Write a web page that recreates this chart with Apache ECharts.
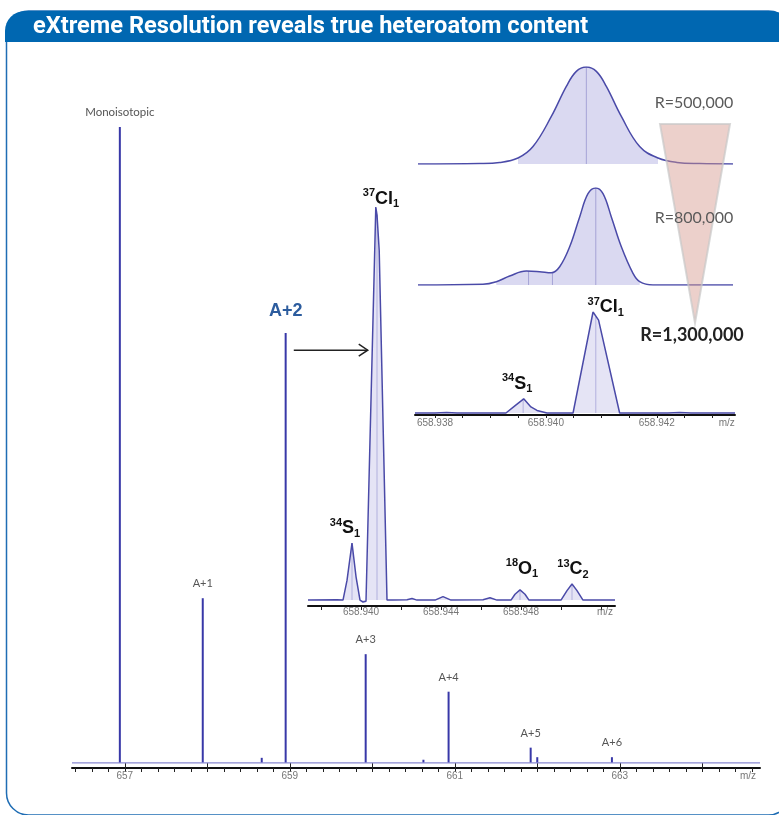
<!DOCTYPE html>
<html>
<head>
<meta charset="utf-8">
<script src="https://cdn.jsdelivr.net/npm/echarts@6/dist/echarts.min.js"></script>
<style>
  html, body { margin: 0; padding: 0; background: #fff; }
  #chart { width: 779px; height: 815px; }
</style>
</head>
<body>
<div id="chart"></div>
<script>
// ---- Full-range spectrum: centroid sticks (m/z, relative intensity) ----
const mainRange  = [656.36, 664.70];
const peakMz     = [656.94, 657.945, 658.95, 659.92, 660.925, 661.92, 662.905];
const peakInt    = [100, 25.9, 67.6, 17.1, 11.2, 2.4, 0.9];
const peakTags   = ['Monoisotopic', 'A+1', 'A+2', 'A+3', 'A+4', 'A+5', 'A+6'];
const minorMz    = [658.66, 660.62, 662.0];
const minorInt   = [0.8, 0.5, 0.9];
const mainLabels = [657, 659, 661, 663, 664.555];
const mainMajor  = [657, 658, 659, 660, 661, 662, 663, 664];

// ---- A+2 cluster zoom (profile) ----
const hrRange = [658.93735, 658.9527];
const hrMz  = [658.93735, 658.9388, 658.9391, 658.9393, 658.93955, 658.93975, 658.93995, 658.9401, 658.94025,
               658.94035, 658.94074, 658.9408, 658.94091, 658.9413, 658.9416, 658.9423, 658.94255, 658.9428,
               658.9437, 658.9441, 658.9445, 658.9461, 658.94645, 658.9468, 658.9475, 658.9477, 658.94795,
               658.9482, 658.9484, 658.9500, 658.9503, 658.95055, 658.9508, 658.9511, 658.9527];
const hrInt = [0, 0.1, 0, 5, 14.5, 6, 0, -0.5, -0.3,
               0, 100, 98, 89, 0, 0, 0.1, 0.4, 0,
               0, 0.9, 0, 0.1, 0.6, 0, 0, 1.5, 2.6,
               1.5, 0, 0, 2.4, 4.1, 2.4, 0, 0];
const hrCentMz  = [658.93955, 658.9408, 658.94795, 658.95055];
const hrCentInt = [14.5, 98, 2.6, 4.1];
const hrTags    = [['34', 'S', '1'], ['37', 'Cl', '1'], ['18', 'O', '1'], ['13', 'C', '2']];
const hrTicks   = [658.938, 658.940, 658.942, 658.944, 658.946, 658.948, 658.950, 658.952];
const hrLabels  = [658.940, 658.944, 658.948, 658.9522];

// ---- Resolution comparison panels ----
const resRange = [658.93770, 658.94337];
const r5Mz  = [658.93770, 658.93881, 658.93917, 658.93950, 658.93977, 658.94010, 658.94037, 658.94055,
               658.94073, 658.94091, 658.94109, 658.94136, 658.94169, 658.94202, 658.94236, 658.94277, 658.94337];
const r5Int = [0, 0.5, 1.6, 6.2, 18, 49, 80, 95.5, 100, 95.5, 80, 49, 18, 6.2, 1.6, 0.4, 0];
const r5Fill = [658.93950, 658.94202];
const r5CentMz  = [658.94073];
const r5CentInt = [100];

const r8Mz  = [658.93770, 658.93887, 658.93911, 658.93935, 658.93965, 658.93989, 658.94010, 658.94025,
               658.94043, 658.94061, 658.94076, 658.94090, 658.94103, 658.94118, 658.94136, 658.94157,
               658.94169, 658.94193, 658.94337];
const r8Int = [0, 0.7, 3.4, 9.3, 14.4, 13.7, 12.6, 18.8, 39.4, 70.2, 94.2, 100, 94.2, 70.2, 39.4, 12, 3.4, 0, 0];
const r8Fill = [658.93911, 658.94169];
const r8CentMz  = [658.93969, 658.94012, 658.94090];
const r8CentInt = [14.4, 12.6, 100];

const r13Range = [658.93764, 658.94341];
const r13Mz  = [658.93764, 658.93800, 658.93821, 658.93840, 658.93928, 658.93944, 658.93960, 658.93973,
                658.93984, 658.94002, 658.94049, 658.94085, 658.94095, 658.94133, 658.94220, 658.94241,
                658.94262, 658.94341];
const r13Int = [0, 0, 0.5, 0, 0, 7, 14, 6, 2.5, 0, 0, 100, 92, 0, 0, 0.5, 0, 0];
const r13CentMz  = [658.93959, 658.94090];
const r13CentInt = [14, 95];
const r13Tags    = [['34', 'S', '1'], ['37', 'Cl', '1']];
const r13Ticks   = [658.9380, 658.9385, 658.9390, 658.9395, 658.9400, 658.9405, 658.9410,
                    658.9415, 658.9420, 658.9425, 658.9430];
const r13Labels  = [658.938, 658.940, 658.942, 658.94326];

const resTexts = ['R=500,000', 'R=800,000', 'R=1,300,000'];
const titleText = 'eXtreme Resolution reveals true heteroatom content';

// ---- styling ----
const C_LINE  = '#4a4aa8';
const C_FILL  = 'rgba(196,194,232,0.62)';
const C_CENT  = '#a5a3d6';
const C_STICK = '#3838a8';
const C_BASE  = '#8a8ad2';
const TICK_FONT = 'Liberation Sans';

const pairs = (xs, ys) => xs.map((x, i) => [x, ys[i]]);
const within = (xs, ys, r) => pairs(xs, ys).filter(p => p[0] >= r[0] - 1e-9 && p[0] <= r[1] + 1e-9);
const isoText = t => `{s|${t[0]}}{e|${t[1]}}{b|${t[2]}}`;
const isoRich = {
  s: { fontSize: 11, fontWeight: 'bold', color: '#111', fontFamily: 'Liberation Sans', verticalAlign: 'top', lineHeight: 12 },
  e: { fontSize: 18, fontWeight: 'bold', color: '#111', fontFamily: 'Liberation Sans', lineHeight: 22 },
  b: { fontSize: 11, fontWeight: 'bold', color: '#111', fontFamily: 'Liberation Sans', verticalAlign: 'bottom', lineHeight: 12 }
};

function axisX(gridIndex, range, ticks, labels, fmt, tickLen, margin) {
  return {
    type: 'value', gridIndex, min: range[0], max: range[1], position: 'bottom',
    axisLine: { show: true, onZero: false, lineStyle: { color: '#111', width: 2 } },
    axisTick: { show: true, customValues: ticks, length: tickLen, lineStyle: { color: '#222', width: 1 } },
    axisLabel: { show: true, customValues: labels, formatter: fmt, margin,
                 color: '#777', fontSize: 10, fontFamily: TICK_FONT },
    splitLine: { show: false }
  };
}
function hiddenX(gridIndex, range) {
  return { type: 'value', gridIndex, min: range[0], max: range[1], show: false, splitLine: { show: false } };
}
function hiddenY(gridIndex, min, max) {
  return { type: 'value', gridIndex, min, max, show: false, splitLine: { show: false } };
}

const mainMinor = [];
for (let k = 0; k <= 41; k++) mainMinor.push(Math.round((656.4 + 0.2 * k) * 10) / 10);

// stick data with labels
const stickData = peakMz.map((mz, i) => {
  const big = peakTags[i] === 'A+2';
  return {
    value: [mz, peakInt[i]],
    label: {
      show: true, formatter: peakTags[i], position: 'top', distance: big ? 13 : 9,
      color: big ? '#2c5c9e' : '#555', fontWeight: big ? 'bold' : 'normal',
      fontSize: big ? 18 : (i === 0 ? 11.5 : 11), fontFamily: big ? 'Liberation Sans' : 'Lato'
    }
  };
}).concat(pairs(minorMz, minorInt).map(v => ({ value: v, label: { show: false } })));

const hrOffsets  = [[-7, -4], [4, -5], [2, -10], [1, -4]];
const r13Offsets = [[-6, -4], [10, 1]];

const centSeries = (xi, yi, mz, ints, tags, offsets) => ({
  type: 'bar', xAxisIndex: xi, yAxisIndex: yi, barWidth: 1, z: 3,
  itemStyle: { color: C_CENT },
  data: mz.map((m, i) => ({
    value: [m, ints[i]],
    label: tags ? { show: true, position: 'top', distance: 0, offset: offsets[i],
                    formatter: isoText(tags[i]), rich: isoRich } : { show: false }
  }))
});

const chart = echarts.init(document.getElementById('chart'), null, { renderer: 'canvas' });

const option = {
  backgroundColor: '#ffffff',
  animation: false,
  grid: [
    { left: 72,  right: 19,  top: 127, bottom: 47 },   // full spectrum
    { left: 308, right: 164, top: 207, bottom: 209 },  // A+2 zoom
    { left: 418, right: 46,  top: 67,  bottom: 651 },  // R=500k
    { left: 418, right: 46,  top: 188, bottom: 530 },  // R=800k
    { left: 415, right: 44,  top: 312, bottom: 400 }   // R=1.3M
  ],
  xAxis: [
    axisX(0, mainRange, mainMinor, mainLabels, v => (v > 664 ? 'm/z' : String(v)), 4, 3),
    {
      type: 'value', gridIndex: 0, min: mainRange[0], max: mainRange[1], position: 'bottom',
      axisLine: { show: false },
      axisTick: { show: true, customValues: mainMajor, length: 6, lineStyle: { color: '#222', width: 1 } },
      axisLabel: { show: false }, splitLine: { show: false }
    },
    axisX(1, hrRange, hrTicks, hrLabels, v => (v > 658.952 ? 'm/z' : v.toFixed(3)), 4, 1),
    hiddenX(2, resRange),
    hiddenX(3, resRange),
    axisX(4, r13Range, r13Ticks, r13Labels, v => (v > 658.943 ? 'm/z' : v.toFixed(3)), 3, 3)
  ],
  yAxis: [
    hiddenY(0, -0.8, 100),
    hiddenY(1, -1.5, 100),
    hiddenY(2, 0, 100),
    hiddenY(3, 0, 100),
    hiddenY(4, -2, 100)
  ],
  series: [
    // full spectrum baseline + sticks
    { type: 'line', xAxisIndex: 0, yAxisIndex: 0, symbol: 'none',
      lineStyle: { color: C_BASE, width: 1.3 },
      data: [[mainRange[0], 0], [mainRange[1], 0]] },
    { type: 'bar', xAxisIndex: 0, yAxisIndex: 0, barWidth: 2, z: 3,
      itemStyle: { color: C_STICK }, data: stickData },

    // A+2 zoom profile
    { type: 'line', xAxisIndex: 2, yAxisIndex: 1, symbol: 'none', z: 4,
      lineStyle: { color: C_LINE, width: 1.5 },
      areaStyle: { color: C_FILL, origin: 0 },
      data: pairs(hrMz, hrInt) },
    centSeries(2, 1, hrCentMz, hrCentInt, hrTags, hrOffsets),

    // R=500k
    { type: 'line', xAxisIndex: 3, yAxisIndex: 2, symbol: 'none', smooth: 0.4, z: 2,
      lineStyle: { width: 0 }, areaStyle: { color: C_FILL, opacity: 1 },
      data: within(r5Mz, r5Int, r5Fill) },
    centSeries(3, 2, r5CentMz, r5CentInt, null, null),
    { type: 'line', xAxisIndex: 3, yAxisIndex: 2, symbol: 'none', smooth: 0.4, z: 4,
      lineStyle: { color: C_LINE, width: 1.5 }, data: pairs(r5Mz, r5Int) },

    // R=800k
    { type: 'line', xAxisIndex: 4, yAxisIndex: 3, symbol: 'none', smooth: 0.4, z: 2,
      lineStyle: { width: 0 }, areaStyle: { color: C_FILL, opacity: 1 },
      data: within(r8Mz, r8Int, r8Fill) },
    centSeries(4, 3, r8CentMz, r8CentInt, null, null),
    { type: 'line', xAxisIndex: 4, yAxisIndex: 3, symbol: 'none', smooth: 0.4, z: 4,
      lineStyle: { color: C_LINE, width: 1.5 }, data: pairs(r8Mz, r8Int) },

    // R=1.3M
    { type: 'line', xAxisIndex: 5, yAxisIndex: 4, symbol: 'none', z: 4,
      lineStyle: { color: C_LINE, width: 1.5 },
      areaStyle: { color: C_FILL, origin: 0 },
      data: pairs(r13Mz, r13Int) },
    centSeries(5, 4, r13CentMz, r13CentInt, r13Tags, r13Offsets)
  ]
};
chart.setOption(option);

// Header title sized to span the banner width
const probe = document.createElement('canvas').getContext('2d');
probe.font = 'bold 20px Roboto';
const titleSize = Math.min(24, 20 * 555 / probe.measureText(titleText).width);

// Annotations: frame, header, resolution wedge and the A+2 -> zoom arrow
const arrowFrom = chart.convertToPixel({ xAxisIndex: 0, yAxisIndex: 0 }, [659.0, 64.9]);
const arrowTo   = chart.convertToPixel({ xAxisIndex: 0, yAxisIndex: 0 }, [659.945, 64.9]);

chart.setOption({
  graphic: [
    { id: 'frame', type: 'rect', z: 0, silent: true,
      shape: { x: 6.5, y: 11, width: 784, height: 804, r: 22 },
      style: { fill: 'none', stroke: '#1f6db4', lineWidth: 1.5 } },
    { id: 'header', type: 'rect', z: 1, silent: true,
      shape: { x: 5, y: 11, width: 786, height: 31, r: [20, 20, 0, 0] },
      style: { fill: '#0067b1' } },
    { id: 'title', type: 'text', z: 2, silent: true, x: 33, y: 27,
      style: { text: titleText, fill: '#ffffff',
               font: 'bold ' + titleSize.toFixed(1) + 'px Roboto', verticalAlign: 'middle' } },
    { id: 'wedge', type: 'polygon', z: 50, silent: true,
      shape: { points: [[660, 124], [730, 124], [695, 323]] },
      style: { fill: 'rgba(212,150,140,0.45)', stroke: 'rgba(200,200,200,0.7)', lineWidth: 2 } },
    { id: 'r5t', type: 'text', z: 51, x: 694, y: 103,
      style: { text: resTexts[0], fill: '#5a5a5a', font: '16px Lato', align: 'center', verticalAlign: 'middle' } },
    { id: 'r8t', type: 'text', z: 51, x: 694, y: 218,
      style: { text: resTexts[1], fill: '#5a5a5a', font: '16px Lato', align: 'center', verticalAlign: 'middle' } },
    { id: 'r13t', type: 'text', z: 51, x: 692, y: 335,
      style: { text: resTexts[2], fill: '#222', font: 'bold 18px Lato', align: 'center', verticalAlign: 'middle' } },
    { id: 'arrowLine', type: 'line', z: 10,
      shape: { x1: arrowFrom[0] + 4, y1: arrowFrom[1], x2: arrowTo[0], y2: arrowTo[1] },
      style: { stroke: '#222', lineWidth: 1.5 } },
    { id: 'arrowHead', type: 'polyline', z: 10,
      shape: { points: [[arrowTo[0] - 9, arrowTo[1] - 6], [arrowTo[0], arrowTo[1]], [arrowTo[0] - 9, arrowTo[1] + 6]] },
      style: { stroke: '#222', lineWidth: 1.5, fill: 'none' } }
  ]
});
</script>
</body>
</html>
